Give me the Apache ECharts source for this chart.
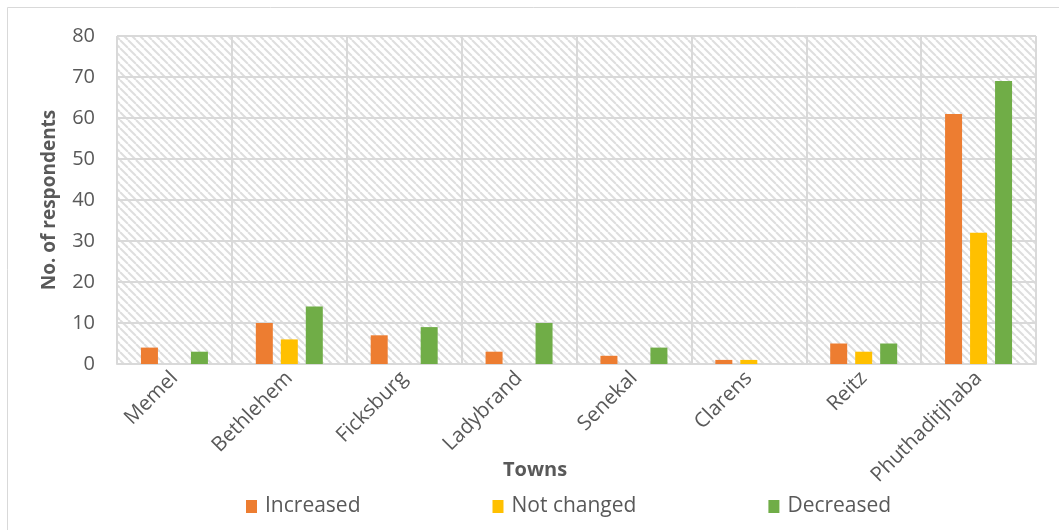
<!DOCTYPE html>
<html>
<head>
<meta charset="utf-8">
<script src="https://cdn.jsdelivr.net/npm/echarts@6/dist/echarts.min.js"></script>
<style>
  html, body { margin: 0; padding: 0; background: #fff; }
  #chart { width: 1059px; height: 530px; }
</style>
</head>
<body>
<div id="chart"></div>
<script>
// Survey responses by town
const towns = ['Memel', 'Bethlehem', 'Ficksburg', 'Ladybrand', 'Senekal', 'Clarens', 'Reitz', 'Phuthaditjhaba'];
const increased = [4, 10, 7, 3, 2, 1, 5, 61];
const notChanged = [0, 6, 0, 0, 0, 1, 3, 32];
const decreased = [3, 14, 9, 10, 4, 0, 5, 69];
const yTicks = [0, 10, 20, 30, 40, 50, 60, 70, 80];

const FONT = '"Open Sans", sans-serif';
const TEXT = '#595959';
const GRID = '#d9d9d9';

// Diagonal hatch tile for the plot background
function hatchTile() {
  const s = 8;
  const c = document.createElement('canvas');
  c.width = s; c.height = s;
  const g = c.getContext('2d');
  g.fillStyle = '#ffffff';
  g.fillRect(0, 0, s, s);
  g.strokeStyle = '#dedede';
  g.lineWidth = 2;
  for (const k of [-s, 0, s]) {
    g.beginPath();
    g.moveTo(k, 0);
    g.lineTo(k + s, s);
    g.stroke();
  }
  return c;
}

const chart = echarts.init(document.getElementById('chart'), null, { renderer: 'canvas' });

const barCommon = { type: 'bar', barWidth: 17, barGap: '47%' };

chart.setOption({
  animation: false,
  backgroundColor: '#ffffff',
  textStyle: { fontFamily: FONT },
  grid: {
    left: 117, right: 23, top: 36, bottom: 166,
    show: true,
    borderWidth: 0,
    backgroundColor: { image: hatchTile(), repeat: 'repeat' }
  },
  title: {
    text: 'Towns',
    left: 498, top: 455,
    textStyle: { fontFamily: FONT, fontSize: 20, fontWeight: 'bold', color: TEXT }
  },
  legend: {
    left: 241, top: 491,
    itemWidth: 11, itemHeight: 13,
    itemGap: 132,
    icon: 'rect',
    textStyle: { fontFamily: FONT, fontSize: 21, color: TEXT, padding: [0, 0, 0, 3] },
    data: ['Increased', 'Not changed', 'Decreased']
  },
  xAxis: {
    type: 'category',
    data: towns,
    axisLine: { lineStyle: { color: GRID, width: 2 } },
    axisTick: { show: false },
    splitLine: { show: true, interval: 0, lineStyle: { color: GRID, width: 2 } },
    axisLabel: { interval: 0, rotate: 45, margin: 11, fontFamily: FONT, fontSize: 20.5, color: TEXT }
  },
  yAxis: {
    type: 'value',
    min: yTicks[0], max: yTicks[yTicks.length - 1], interval: 10,
    name: 'No. of respondents',
    nameLocation: 'middle',
    nameGap: 58,
    nameTextStyle: { fontFamily: FONT, fontSize: 19, fontWeight: 'bold', color: TEXT },
    axisLine: { show: false },
    axisTick: { show: false },
    splitLine: { lineStyle: { color: GRID, width: 2 } },
    axisLabel: { margin: 22, fontFamily: FONT, fontSize: 20, color: TEXT }
  },
  series: [
    Object.assign({ name: 'Increased', data: increased, itemStyle: { color: '#ED7D31' } }, barCommon),
    Object.assign({ name: 'Not changed', data: notChanged, itemStyle: { color: '#FFC000' } }, barCommon),
    Object.assign({ name: 'Decreased', data: decreased, itemStyle: { color: '#70AD47' } }, barCommon)
  ],
  graphic: [{
    type: 'rect',
    silent: true,
    shape: { x: 7.5, y: 7.5, width: 1200, height: 800 },
    style: { fill: 'none', stroke: GRID, lineWidth: 1 }
  }]
});
</script>
</body>
</html>
